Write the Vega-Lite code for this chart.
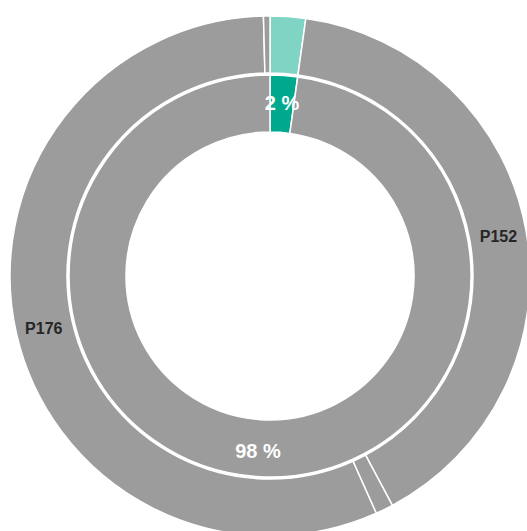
{
  "$schema": "https://vega.github.io/schema/vega-lite/v6.json",
  "width": 540,
  "height": 552,
  "autosize": "none",
  "padding": 0,
  "background": "white",
  "config": {"view": {"stroke": null}},
  "data": {
    "values": [
      {"ring": "outer", "seq": 1, "segment": "light", "name": "", "value": 2.2},
      {"ring": "outer", "seq": 2, "segment": "grey", "name": "P152", "value": 40.0},
      {"ring": "outer", "seq": 3, "segment": "grey", "name": "", "value": 1.1},
      {"ring": "outer", "seq": 4, "segment": "grey", "name": "P176", "value": 56.3},
      {"ring": "outer", "seq": 5, "segment": "grey", "name": "", "value": 0.4},
      {"ring": "inner", "seq": 1, "segment": "green", "name": "2 %", "value": 2.2},
      {"ring": "inner", "seq": 2, "segment": "grey", "name": "98 %", "value": 97.8}
    ]
  },
  "encoding": {
    "theta": {"field": "value", "type": "quantitative", "stack": true},
    "order": {"field": "seq", "type": "quantitative"}
  },
  "layer": [
    {
      "transform": [{"filter": "datum.ring === 'outer'"}],
      "mark": {"type": "arc", "radius": 260, "radius2": 203, "stroke": "white", "strokeWidth": 1.5},
      "encoding": {
        "color": {"field": "segment", "type": "nominal", "legend": null,
          "scale": {"domain": ["light", "green", "grey"], "range": ["#80d4c4", "#00a88e", "#9c9c9c"]}}
      }
    },
    {
      "transform": [{"filter": "datum.ring === 'inner'"}],
      "mark": {"type": "arc", "radius": 201, "radius2": 144, "stroke": "white", "strokeWidth": 1.5},
      "encoding": {
        "color": {"field": "segment", "type": "nominal", "legend": null,
          "scale": {"domain": ["light", "green", "grey"], "range": ["#80d4c4", "#00a88e", "#9c9c9c"]}}
      }
    },
    {
      "transform": [{"filter": "datum.ring === 'outer'"}],
      "mark": {"type": "text", "radius": 232, "dy": 2, "font": "Liberation Sans", "fontWeight": "bold", "fontSize": 16, "color": "#262626", "align": "center", "baseline": "middle"},
      "encoding": {"text": {"field": "name", "type": "nominal"}}
    },
    {
      "transform": [{"filter": "datum.ring === 'inner'"}],
      "mark": {"type": "text", "radius": 174, "dy": 2, "font": "Liberation Sans", "fontWeight": "bold", "fontSize": 20, "color": "#ffffff", "align": "center", "baseline": "middle"},
      "encoding": {"text": {"field": "name", "type": "nominal"}}
    }
  ]
}
